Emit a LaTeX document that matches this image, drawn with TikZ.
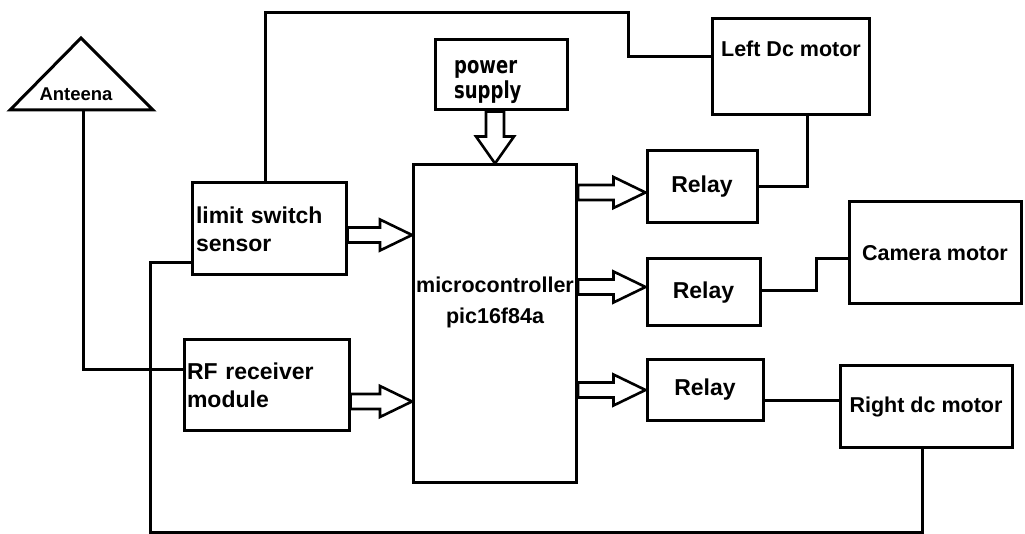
\documentclass[tikz,border=0pt]{standalone}
\usepackage{fontspec}
\setmainfont{Liberation Sans}
\newfontfamily\djv{DejaVu Sans}
\usetikzlibrary{calc}
\tikzset{
  box/.style={draw, line width=3pt, inner sep=0pt, font=\fontsize{21.5}{28}\selectfont\bfseries},
  bigtext/.style={font=\fontsize{23}{28}\selectfont\bfseries},
  wire/.style={draw, line width=3pt, line join=miter},
  blk/.style={draw, line width=2.6pt, fill=white, line join=miter},
  lbl/.style={inner sep=0pt, font=\fontsize{21.5}{28}\selectfont\bfseries},
}
\newcommand\hblock[2]{\path[blk] let \p1=(#1), \p2=(#2) in
  (\x1,\y1+7.5pt) -- (\x2-32pt,\y1+7.5pt) -- (\x2-32pt,\y1+15.5pt) -- (\x2,\y1)
  -- (\x2-32pt,\y1-15.5pt) -- (\x2-32pt,\y1-7.5pt) -- (\x1,\y1-7.5pt) -- cycle;}
\newcommand\vblock[2]{\path[blk] let \p1=(#1), \p2=(#2) in
  (\x1-9pt,\y1) -- (\x1-9pt,\y2+27pt) -- (\x1-19pt,\y2+27pt) -- (\x1,\y2)
  -- (\x1+19pt,\y2+27pt) -- (\x1+9pt,\y2+27pt) -- (\x1+9pt,\y1) -- cycle;}
\begin{document}
\begin{tikzpicture}[x=1pt,y=-1pt]
\useasboundingbox (0,0) rectangle (1025,534);
% antenna
\draw[line width=3pt, line join=miter] (81,38) -- (153,110) -- (10,110) -- cycle;
\coordinate (antb) at (83,110);
\node[inner sep=0pt, font=\fontsize{18.5}{20}\selectfont\bfseries] (anttext) at (76,94) {Anteena};
% boxes
\node[box, bigtext, minimum width=154pt, minimum height=92pt, text width=146pt, align=left] (ls) at (269,229) {limit switch\\sensor};
\node[box, bigtext, minimum width=165pt, minimum height=90pt, text width=159pt, align=left] (rf) at (266.5,385) {RF receiver\\module};
\node[box, minimum width=163pt, minimum height=317pt] (mcu) at (495,323.5) {};
\node[lbl, align=center, font=\fontsize{21.5}{31}\selectfont\bfseries] (mcutext) at (495,302) {microcontroller\\pic16f84a};
\node[box, minimum width=132pt, minimum height=70pt] (ps) at (501,75) {};
\node[inner sep=0pt, anchor=west, align=left, font=\fontsize{18}{25}\selectfont\djv\bfseries] (pstext) at (454,82) {\scalebox{1}[1.3]{power}\\\scalebox{1}[1.3]{supply}};
\node[box, minimum width=157pt, minimum height=96pt] (ldc) at (790.5,67) {};
\node[lbl] (ldctext) at (791,49) {Left Dc motor};
\node[box, bigtext, minimum width=110pt, minimum height=72pt] (r1) at (702,187) {Relay};
\node[box, bigtext, minimum width=113pt, minimum height=67pt] (r2) at (703.5,292.5) {Relay};
\node[box, bigtext, minimum width=116pt, minimum height=60pt] (r3) at (705,390) {Relay};
\node[box, minimum width=172pt, minimum height=102pt] (cam) at (935,253) {Camera motor};
\node[box, minimum width=172pt, minimum height=81pt] (rdc) at (926,406.5) {Right dc motor};
\coordinate (topbend) at (628,13);
\coordinate (botleft) at (150,532);
% wires
\draw[wire] (antb) |- ([yshift=15pt]rf.west);
\draw[wire] ([xshift=-4pt]ls.north) |- (topbend) |- ([yshift=10pt]ldc.west);
\draw[wire] (r1.east) -| ([xshift=17pt]ldc.south);
\draw[wire] ([yshift=2pt]r2.east) -- ++(55,0) |- ([yshift=-6pt]cam.west);
\draw[wire] ([yshift=-10pt]r3.east) -- ([yshift=-10pt]r3.east -| rdc.west);
\draw[wire] ([yshift=-34pt]ls.west) -| (botleft) -| ([xshift=-4pt]rdc.south);
% block arrows
\hblock{$(ls.east)+(0,6)$}{mcu.west}
\hblock{$(rf.east)+(0,16.5)$}{mcu.west}
\hblock{$(r1.west -| mcu.east)+(0,5.5)$}{r1.west}
\hblock{$(r2.west -| mcu.east)+(0,-5.5)$}{r2.west}
\hblock{$(r3.west -| mcu.east)$}{r3.west}
\vblock{ps.south -| mcu.north}{mcu.north}
\end{tikzpicture}
\end{document}
